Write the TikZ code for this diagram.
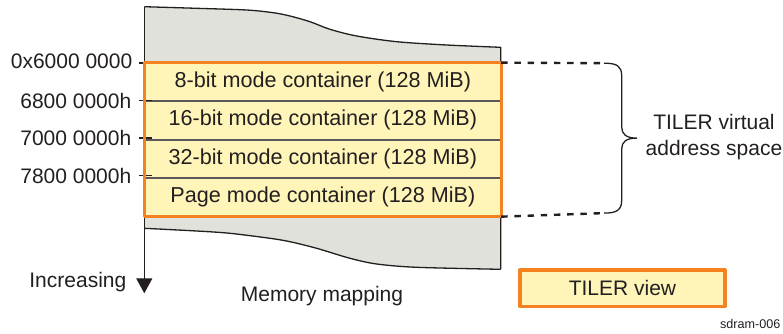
\documentclass[tikz,border=0pt]{standalone}
\usepackage{fontspec}
\setmainfont{Liberation Sans}
\usetikzlibrary{arrows.meta,positioning}

\definecolor{memgray}{RGB}{224,225,218}
\definecolor{tilerfill}{RGB}{255,245,185}
\definecolor{tilerorange}{RGB}{245,130,32}
\definecolor{inkgray}{RGB}{35,31,32}

\begin{document}
\begin{tikzpicture}[line join=round, x=0.5pt, y=-0.5pt,
	font=\fontsize{10.5}{13}\selectfont, text=inkgray]

	\tikzset{
		rowbox/.style={draw=inkgray!75, line width=0.5pt, fill=tilerfill,
			minimum width=177.85pt, minimum height=18.75pt, inner sep=0pt,
			font=\fontsize{10.8}{13}\selectfont},
		addrlabel/.style={anchor=east, inner sep=0pt},
		tilerframe/.style={draw=tilerorange, line width=1.6pt},
		spanline/.style={draw=inkgray, line width=1.2pt, dash pattern=on 3.2pt off 3.4pt},
		edgeline/.style={draw=inkgray, line width=0.65pt}
	}

	\useasboundingbox (0,0) rectangle (783,333);

	% ----------------------------------------------------
	% Vung bo nho (nen xam)
	% ----------------------------------------------------
	\fill[memgray] plot[smooth, tension=0.5] coordinates {(144.3,6.7) (196.7,8.3) (246.7,10) (273.3,12.7) (290,16) (310,21.7) (330,29.3) (356.7,36) (396.7,41.7) (446.7,45) (500.7,47.3)}
		-- plot[smooth, tension=0.5] coordinates {(500.7,269.3) (416.7,267.3) (376.7,264) (350,258.3) (316.7,248.3) (290,241.7) (270,238.3) (230,233.3) (196.7,231) (144.3,228.3)} -- cycle;
	\draw[edgeline] plot[smooth, tension=0.5] coordinates {(144.3,6.7) (196.7,8.3) (246.7,10) (273.3,12.7) (290,16) (310,21.7) (330,29.3) (356.7,36) (396.7,41.7) (446.7,45) (500.7,47.3)}
		-- (500.7,269.3);
	\draw[edgeline] plot[smooth, tension=0.5] coordinates {(500.7,269.3) (416.7,267.3) (376.7,264) (350,258.3) (316.7,248.3) (290,241.7) (270,238.3) (230,233.3) (196.7,231) (144.3,228.3)};

	% Truc "Increasing"
	\coordinate (axtop) at (144.3,6.7);
	\coordinate (axend) at (144.3,293.3);
	\draw[edgeline, -{Triangle[width=8pt,length=7.5pt]}] (axtop) -- (axend);

	% ----------------------------------------------------
	% Cac container cua TILER
	% ----------------------------------------------------
	\node[rowbox] (mode8) at (322.85,81.9) {8-bit mode container (128 MiB)};
	\node[rowbox, below=0pt of mode8] (mode16) {16-bit mode container (128 MiB)};
	\node[rowbox, below=0pt of mode16] (mode32) {32-bit mode container (128 MiB)};
	\node[rowbox, below=0pt of mode32] (modepage) {Page mode container (128 MiB)};

	% Vach chia dia chi
	\foreach \ty in {63.2,100.6,138.1,175.6}
		\draw[edgeline, line width=0.8pt] (139,\ty) -- (152,\ty);

	\draw[tilerframe] (mode8.north west) rectangle (modepage.south east);

	% Nhan dia chi
	\node[addrlabel] (addr60) at (132.7,61) {0x6000 0000};
	\node[addrlabel] (addr68) at (131.7,100.5) {6800 0000h};
	\node[addrlabel] (addr70) at (131.7,138) {7000 0000h};
	\node[addrlabel] (addr78) at (131.7,175.5) {7800 0000h};

	% ----------------------------------------------------
	% Ngoac "TILER virtual address space"
	% ----------------------------------------------------
	\coordinate (bracetop) at (604,63.2);
	\coordinate (bracebot) at (604,213.1);
	\draw[spanline] (mode8.north east) -- (bracetop);
	\draw[spanline] (modepage.south east) -- (bracebot);
	\draw[edgeline] (bracetop) .. controls (617,63.2) and (621.7,66) .. (621.7,76)
		-- (621.7,127) .. controls (621.7,134) and (626,138.1) .. (636.7,138.1)
		.. controls (626,138.1) and (621.7,142) .. (621.7,149)
		-- (621.7,200) .. controls (621.7,210) and (617,213.1) .. (bracebot);

	\node[align=center, inner sep=0pt] (tilerspace) at (714,137) {TILER virtual\\address space};

	% ----------------------------------------------------
	% Chu thich
	% ----------------------------------------------------
	\node[anchor=base east, inner sep=0pt] (increasing) at (126.7,287.3) {Increasing};
	\node[anchor=base, inner sep=0pt] (memmap) at (322,301.7) {Memory mapping};
	\node[draw=tilerorange, line width=1.6pt, fill=tilerfill, minimum width=102.5pt,
		minimum height=18.35pt, inner sep=0pt] (tilerview) at (622.5,288.3) {TILER view};
	\node[anchor=base east, inner sep=0pt, font=\fontsize{6.3}{7}\selectfont] (figid) at (780.7,328.5) {sdram-006};

\end{tikzpicture}
\end{document}
